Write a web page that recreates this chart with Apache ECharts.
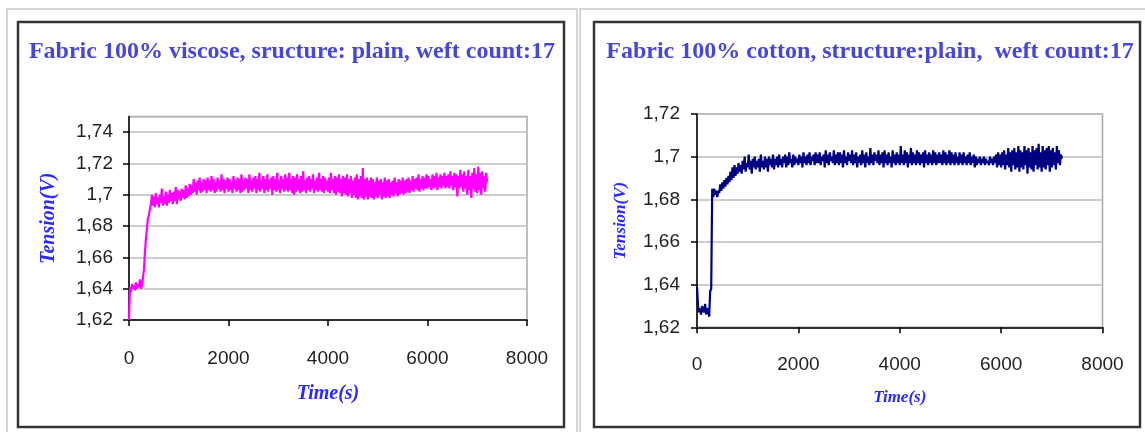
<!DOCTYPE html>
<html>
<head>
<meta charset="utf-8">
<script src="https://cdn.jsdelivr.net/npm/echarts@6/dist/echarts.min.js"></script>
<style>
html,body{margin:0;padding:0;background:#fff;}
#c{width:1145px;height:432px;}
</style>
</head>
<body>
<div id="c"></div>
<script>
// ---- data ----
const titleLeft = "Fabric 100% viscose, sructure: plain, weft count:17";
const titleRight = "Fabric 100% cotton, structure:plain,  weft count:17";
const xTicks = [0, 2000, 4000, 6000, 8000];
const yTicksLeft = [1.62, 1.64, 1.66, 1.68, 1.70, 1.72, 1.74];
const yTicksRight = [1.62, 1.64, 1.66, 1.68, 1.70, 1.72];

const timeS = [
  0,20,40,60,80,100,120,140,160,180,200,220,240,260,280,300,320,340,360,380,
  400,420,440,460,480,500,520,540,560,580,600,620,640,660,680,700,720,740,760,780,
  800,820,840,860,880,900,920,940,960,980,1000,1020,1040,1060,1080,1100,1120,1140,1160,1180,
  1200,1220,1240,1260,1280,1300,1320,1340,1360,1380,1400,1420,1440,1460,1480,1500,1520,1540,1560,1580,
  1600,1620,1640,1660,1680,1700,1720,1740,1760,1780,1800,1820,1840,1860,1880,1900,1920,1940,1960,1980,
  2000,2020,2040,2060,2080,2100,2120,2140,2160,2180,2200,2220,2240,2260,2280,2300,2320,2340,2360,2380,
  2400,2420,2440,2460,2480,2500,2520,2540,2560,2580,2600,2620,2640,2660,2680,2700,2720,2740,2760,2780,
  2800,2820,2840,2860,2880,2900,2920,2940,2960,2980,3000,3020,3040,3060,3080,3100,3120,3140,3160,3180,
  3200,3220,3240,3260,3280,3300,3320,3340,3360,3380,3400,3420,3440,3460,3480,3500,3520,3540,3560,3580,
  3600,3620,3640,3660,3680,3700,3720,3740,3760,3780,3800,3820,3840,3860,3880,3900,3920,3940,3960,3980,
  4000,4020,4040,4060,4080,4100,4120,4140,4160,4180,4200,4220,4240,4260,4280,4300,4320,4340,4360,4380,
  4400,4420,4440,4460,4480,4500,4520,4540,4560,4580,4600,4620,4640,4660,4680,4700,4720,4740,4760,4780,
  4800,4820,4840,4860,4880,4900,4920,4940,4960,4980,5000,5020,5040,5060,5080,5100,5120,5140,5160,5180,
  5200,5220,5240,5260,5280,5300,5320,5340,5360,5380,5400,5420,5440,5460,5480,5500,5520,5540,5560,5580,
  5600,5620,5640,5660,5680,5700,5720,5740,5760,5780,5800,5820,5840,5860,5880,5900,5920,5940,5960,5980,
  6000,6020,6040,6060,6080,6100,6120,6140,6160,6180,6200,6220,6240,6260,6280,6300,6320,6340,6360,6380,
  6400,6420,6440,6460,6480,6500,6520,6540,6560,6580,6600,6620,6640,6660,6680,6700,6720,6740,6760,6780,
  6800,6820,6840,6860,6880,6900,6920,6940,6960,6980,7000,7020,7040,7060,7080,7100,7120,7140,7160,7180,
  7200
];

const viscoseTension = [
  1.620,1.641,1.638,1.643,1.640,1.642,1.639,1.644,1.640,1.643,1.641,1.646,1.640,1.642,1.641,1.652,1.663,1.672,1.678,1.685,
  1.687,1.691,1.694,1.700,1.693,1.699,1.692,1.701,1.694,1.698,1.692,1.700,1.695,1.704,1.693,1.699,1.694,1.702,1.693,1.700,
  1.695,1.703,1.696,1.701,1.694,1.702,1.696,1.705,1.694,1.703,1.697,1.702,1.696,1.704,1.698,1.703,1.697,1.706,1.698,1.704,
  1.699,1.707,1.700,1.706,1.701,1.710,1.702,1.708,1.700,1.709,1.703,1.711,1.701,1.708,1.702,1.710,1.703,1.709,1.701,1.711,
  1.703,1.709,1.702,1.712,1.703,1.710,1.701,1.708,1.702,1.711,1.704,1.709,1.702,1.713,1.703,1.710,1.701,1.709,1.704,1.711,
  1.702,1.710,1.703,1.708,1.701,1.712,1.704,1.709,1.702,1.711,1.703,1.710,1.701,1.713,1.702,1.709,1.703,1.711,1.704,1.710,
  1.701,1.713,1.703,1.709,1.702,1.711,1.704,1.712,1.701,1.710,1.703,1.714,1.702,1.709,1.704,1.712,1.701,1.710,1.703,1.713,
  1.702,1.709,1.704,1.711,1.700,1.712,1.703,1.710,1.702,1.714,1.703,1.709,1.701,1.712,1.704,1.710,1.702,1.713,1.703,1.711,
  1.702,1.714,1.703,1.710,1.701,1.712,1.700,1.711,1.702,1.713,1.703,1.710,1.701,1.712,1.702,1.715,1.703,1.709,1.701,1.711,
  1.703,1.712,1.702,1.710,1.704,1.713,1.701,1.709,1.703,1.711,1.702,1.714,1.703,1.710,1.702,1.712,1.701,1.711,1.703,1.709,
  1.702,1.711,1.701,1.714,1.703,1.710,1.701,1.712,1.700,1.711,1.702,1.713,1.701,1.710,1.699,1.712,1.701,1.711,1.700,1.713,
  1.699,1.710,1.701,1.712,1.698,1.709,1.700,1.711,1.698,1.713,1.697,1.710,1.699,1.712,1.698,1.717,1.697,1.710,1.699,1.711,
  1.697,1.709,1.699,1.711,1.698,1.710,1.697,1.708,1.699,1.711,1.698,1.709,1.700,1.710,1.697,1.708,1.699,1.711,1.698,1.709,
  1.699,1.710,1.698,1.708,1.700,1.709,1.699,1.711,1.701,1.708,1.699,1.710,1.700,1.709,1.701,1.711,1.700,1.709,1.701,1.710,
  1.702,1.711,1.701,1.709,1.703,1.712,1.702,1.710,1.704,1.711,1.703,1.713,1.702,1.710,1.704,1.712,1.703,1.711,1.704,1.713,
  1.704,1.712,1.705,1.710,1.703,1.713,1.704,1.712,1.705,1.714,1.703,1.711,1.705,1.713,1.704,1.712,1.706,1.714,1.704,1.712,
  1.705,1.713,1.704,1.715,1.706,1.712,1.703,1.714,1.705,1.713,1.699,1.712,1.704,1.716,1.705,1.713,1.702,1.715,1.704,1.712,
  1.700,1.716,1.703,1.712,1.698,1.714,1.704,1.717,1.702,1.713,1.701,1.718,1.703,1.714,1.700,1.715,1.704,1.712,1.702,1.714,
  1.708
];

const cottonTension = [
  1.639,1.630,1.627,1.629,1.626,1.630,1.628,1.627,1.631,1.626,1.629,1.628,1.625,1.637,1.638,1.685,1.681,1.685,1.682,1.684,
  1.681,1.684,1.683,1.687,1.684,1.688,1.685,1.689,1.686,1.690,1.687,1.691,1.688,1.693,1.689,1.695,1.690,1.696,1.691,1.695,
  1.692,1.697,1.693,1.696,1.692,1.698,1.694,1.700,1.693,1.697,1.695,1.701,1.694,1.698,1.692,1.699,1.695,1.700,1.694,1.698,
  1.695,1.699,1.693,1.701,1.695,1.698,1.694,1.700,1.695,1.699,1.693,1.700,1.696,1.699,1.695,1.701,1.694,1.699,1.696,1.700,
  1.695,1.701,1.696,1.699,1.695,1.700,1.697,1.701,1.695,1.700,1.696,1.702,1.697,1.699,1.695,1.701,1.696,1.700,1.697,1.699,
  1.696,1.701,1.697,1.700,1.695,1.702,1.697,1.700,1.696,1.701,1.697,1.702,1.696,1.700,1.698,1.701,1.696,1.702,1.697,1.701,
  1.697,1.702,1.696,1.700,1.698,1.701,1.695,1.703,1.697,1.701,1.696,1.702,1.698,1.700,1.697,1.703,1.696,1.701,1.697,1.702,
  1.696,1.702,1.697,1.701,1.695,1.703,1.697,1.700,1.696,1.702,1.698,1.701,1.697,1.703,1.696,1.701,1.697,1.702,1.695,1.700,
  1.697,1.701,1.696,1.703,1.697,1.701,1.695,1.702,1.697,1.700,1.696,1.704,1.697,1.701,1.696,1.702,1.698,1.701,1.697,1.703,
  1.696,1.701,1.697,1.702,1.695,1.703,1.697,1.701,1.696,1.702,1.697,1.700,1.695,1.703,1.697,1.701,1.696,1.702,1.697,1.701,
  1.696,1.705,1.697,1.701,1.696,1.703,1.697,1.702,1.695,1.701,1.697,1.704,1.696,1.702,1.697,1.701,1.696,1.703,1.697,1.702,
  1.696,1.701,1.697,1.702,1.695,1.703,1.697,1.701,1.696,1.702,1.697,1.701,1.696,1.703,1.697,1.702,1.696,1.701,1.697,1.702,
  1.697,1.701,1.696,1.703,1.697,1.702,1.696,1.701,1.697,1.703,1.696,1.702,1.697,1.701,1.696,1.702,1.697,1.700,1.696,1.702,
  1.697,1.701,1.696,1.702,1.697,1.700,1.696,1.701,1.697,1.702,1.696,1.700,1.697,1.701,1.695,1.700,1.696,1.699,1.697,1.700,
  1.696,1.699,1.697,1.700,1.696,1.699,1.697,1.698,1.696,1.700,1.697,1.699,1.696,1.700,1.697,1.701,1.695,1.702,1.696,1.701,
  1.695,1.702,1.696,1.703,1.694,1.701,1.696,1.704,1.695,1.702,1.693,1.703,1.696,1.704,1.694,1.702,1.695,1.705,1.693,1.703,
  1.695,1.702,1.694,1.705,1.696,1.703,1.692,1.704,1.695,1.702,1.694,1.705,1.693,1.703,1.696,1.704,1.694,1.706,1.695,1.702,
  1.693,1.705,1.695,1.703,1.694,1.704,1.696,1.705,1.693,1.703,1.695,1.704,1.696,1.702,1.694,1.705,1.697,1.703,1.696,1.701,
  1.699
];

// ---- chart ----
const chart = echarts.init(document.getElementById('c'));
const fmt = v => String(Math.round(v * 100) / 100).replace('.', ',');
const fmtX = v => String(Math.round(v));
const tickFont = { fontFamily: 'Liberation Sans, Arial, sans-serif', fontSize: 19, color: '#222' };
const nameBlue = '#2a2aff';

function xAxis(gi, nameSize, gap, margin) {
  return {
    type: 'value', gridIndex: gi, min: xTicks[0], max: xTicks[xTicks.length - 1],
    interval: xTicks[1] - xTicks[0],
    name: 'Time(s)', nameLocation: 'middle', nameGap: gap,
    nameTextStyle: { fontFamily: 'Liberation Serif, serif', fontStyle: 'italic', fontWeight: 'bold', fontSize: nameSize, color: nameBlue },
    axisLine: { show: true, onZero: false, lineStyle: { color: '#000', width: 1.5 } },
    axisTick: { show: true, length: 6, lineStyle: { color: '#000', width: 1.5 } },
    axisLabel: Object.assign({ margin: margin, formatter: fmtX }, tickFont),
    splitLine: { show: false }
  };
}
function yAxis(gi, ticks, max, nameSize, gap, margin) {
  return {
    type: 'value', gridIndex: gi, min: ticks[0], max: max,
    interval: 0.02,
    name: 'Tension(V)', nameLocation: 'middle', nameGap: gap,
    nameTextStyle: { fontFamily: 'Liberation Serif, serif', fontStyle: 'italic', fontWeight: 'bold', fontSize: nameSize, color: nameBlue },
    axisLine: { show: true, onZero: false, lineStyle: { color: '#000', width: 1.5 } },
    axisTick: { show: true, length: 6, lineStyle: { color: '#000', width: 1.5 } },
    axisLabel: Object.assign({ margin: margin, formatter: fmt, showMaxLabel: max === ticks[ticks.length - 1] }, tickFont),
    splitLine: { show: true, lineStyle: { color: '#bdbdbd', width: 1.5 } }
  };
}

const titleStyle = { fontFamily: 'Liberation Serif, serif', fontWeight: 'bold', fontSize: 24, color: '#4646d8' };

chart.setOption({
  animation: false,
  backgroundColor: '#fff',
  title: [
    { text: titleLeft, left: 287, top: 35, textAlign: 'center', textStyle: titleStyle },
    { text: titleRight, left: 865, top: 35, textAlign: 'center', textStyle: titleStyle }
  ],
  graphic: [
    { type: 'rect', shape: { x: 7, y: 9, width: 570, height: 440 }, style: { fill: 'none', stroke: '#d6d6d6', lineWidth: 2 }, silent: true },
    { type: 'rect', shape: { x: 580, y: 9, width: 600, height: 440 }, style: { fill: 'none', stroke: '#d6d6d6', lineWidth: 2 }, silent: true },
    { type: 'rect', shape: { x: 18, y: 22, width: 546, height: 405 }, style: { fill: 'none', stroke: '#333', lineWidth: 2.5 }, silent: true },
    { type: 'rect', shape: { x: 594, y: 22, width: 546, height: 405 }, style: { fill: 'none', stroke: '#333', lineWidth: 2.5 }, silent: true }
  ],
  grid: [
    { left: 129, top: 116.5, width: 398, height: 203.5, show: true, borderColor: '#a8a8a8', borderWidth: 1.5, backgroundColor: 'transparent' },
    { left: 697, top: 114, width: 405.5, height: 213.3, show: true, borderColor: '#a8a8a8', borderWidth: 1.5, backgroundColor: 'transparent' }
  ],
  xAxis: [ xAxis(0, 20, 64, 29), xAxis(1, 17, 62, 28) ],
  yAxis: [ yAxis(0, yTicksLeft, 1.75, 20, 70, 16), yAxis(1, yTicksRight, 1.72, 17, 68, 17) ],
  series: [
    { type: 'line', xAxisIndex: 0, yAxisIndex: 0, showSymbol: false, sampling: 'none', data: timeS.map((t, i) => [t, viscoseTension[i]]),
      lineStyle: { color: '#ff00ff', width: 2.2 }, itemStyle: { color: '#ff00ff' } },
    { type: 'line', xAxisIndex: 1, yAxisIndex: 1, showSymbol: false, sampling: 'none', data: timeS.map((t, i) => [t, cottonTension[i]]),
      lineStyle: { color: '#000080', width: 2.2 }, itemStyle: { color: '#000080' } }
  ]
});
</script>
</body>
</html>
